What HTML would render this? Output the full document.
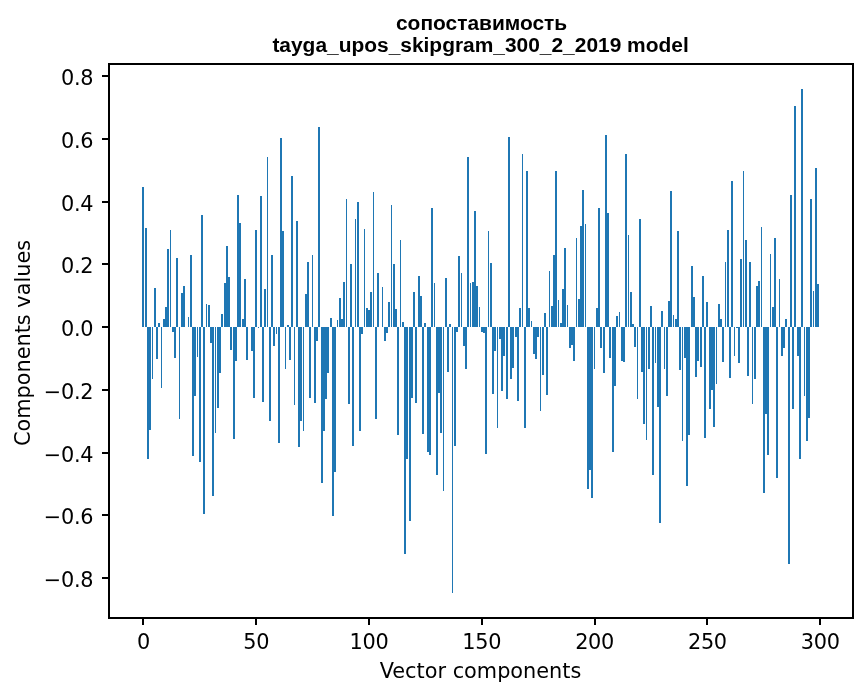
<!DOCTYPE html>
<html><head><meta charset="utf-8"><title>plot</title>
<style>
html,body{margin:0;padding:0;background:#fff;}
svg{display:block;}
.t{font-family:"DejaVu Sans",sans-serif;font-size:20.83px;fill:#000;}
.h{font-family:"Liberation Sans",Arial,sans-serif;font-weight:bold;font-size:20.93px;fill:#000;}
</style></head><body>
<svg width="867" height="696" viewBox="0 0 867 696">
<rect width="867" height="696" fill="#fff"/>
<g fill="#1f77b4" shape-rendering="crispEdges">
<rect x="142" y="187" width="2" height="140"/>
<rect x="145" y="228" width="2" height="99"/>
<rect x="147" y="327" width="2" height="132"/>
<rect x="149" y="327" width="2" height="103"/>
<rect x="152" y="327" width="1" height="52"/>
<rect x="154" y="288" width="2" height="39"/>
<rect x="156" y="327" width="2" height="32"/>
<rect x="158" y="323" width="2" height="4"/>
<rect x="161" y="327" width="1" height="61"/>
<rect x="163" y="319" width="2" height="8"/>
<rect x="165" y="307" width="2" height="20"/>
<rect x="167" y="249" width="2" height="78"/>
<rect x="170" y="230" width="1" height="97"/>
<rect x="172" y="327" width="2" height="5"/>
<rect x="174" y="327" width="2" height="31"/>
<rect x="176" y="258" width="2" height="69"/>
<rect x="179" y="327" width="1" height="92"/>
<rect x="181" y="293" width="2" height="34"/>
<rect x="183" y="286" width="2" height="41"/>
<rect x="188" y="317" width="1" height="10"/>
<rect x="190" y="255" width="2" height="72"/>
<rect x="192" y="327" width="2" height="129"/>
<rect x="194" y="327" width="2" height="69"/>
<rect x="197" y="327" width="1" height="30"/>
<rect x="199" y="327" width="2" height="135"/>
<rect x="201" y="215" width="2" height="112"/>
<rect x="203" y="327" width="2" height="187"/>
<rect x="206" y="304" width="1" height="23"/>
<rect x="208" y="305" width="2" height="22"/>
<rect x="210" y="327" width="2" height="16"/>
<rect x="212" y="327" width="2" height="169"/>
<rect x="215" y="327" width="1" height="106"/>
<rect x="217" y="327" width="2" height="81"/>
<rect x="219" y="327" width="2" height="46"/>
<rect x="221" y="314" width="2" height="13"/>
<rect x="224" y="283" width="2" height="44"/>
<rect x="226" y="246" width="2" height="81"/>
<rect x="228" y="277" width="2" height="50"/>
<rect x="230" y="327" width="2" height="23"/>
<rect x="233" y="327" width="2" height="112"/>
<rect x="235" y="327" width="2" height="34"/>
<rect x="237" y="195" width="2" height="132"/>
<rect x="239" y="223" width="2" height="104"/>
<rect x="242" y="319" width="2" height="8"/>
<rect x="244" y="279" width="2" height="48"/>
<rect x="246" y="327" width="2" height="33"/>
<rect x="251" y="327" width="2" height="24"/>
<rect x="253" y="327" width="2" height="71"/>
<rect x="255" y="230" width="2" height="97"/>
<rect x="258" y="327" width="1" height="1"/>
<rect x="260" y="196" width="2" height="131"/>
<rect x="262" y="327" width="2" height="75"/>
<rect x="264" y="289" width="2" height="38"/>
<rect x="267" y="157" width="1" height="170"/>
<rect x="269" y="327" width="2" height="94"/>
<rect x="271" y="255" width="2" height="72"/>
<rect x="273" y="327" width="2" height="19"/>
<rect x="276" y="327" width="1" height="7"/>
<rect x="278" y="327" width="2" height="116"/>
<rect x="280" y="138" width="2" height="189"/>
<rect x="282" y="231" width="2" height="96"/>
<rect x="285" y="327" width="1" height="42"/>
<rect x="287" y="325" width="2" height="2"/>
<rect x="289" y="327" width="2" height="33"/>
<rect x="291" y="176" width="2" height="151"/>
<rect x="294" y="327" width="1" height="78"/>
<rect x="296" y="221" width="2" height="106"/>
<rect x="298" y="327" width="2" height="120"/>
<rect x="300" y="327" width="2" height="94"/>
<rect x="303" y="327" width="1" height="104"/>
<rect x="305" y="294" width="2" height="33"/>
<rect x="307" y="262" width="2" height="65"/>
<rect x="309" y="327" width="2" height="71"/>
<rect x="312" y="255" width="1" height="72"/>
<rect x="314" y="327" width="2" height="76"/>
<rect x="316" y="327" width="2" height="14"/>
<rect x="318" y="127" width="2" height="200"/>
<rect x="321" y="327" width="2" height="156"/>
<rect x="323" y="327" width="2" height="104"/>
<rect x="325" y="327" width="2" height="72"/>
<rect x="327" y="327" width="2" height="46"/>
<rect x="330" y="318" width="2" height="9"/>
<rect x="332" y="327" width="2" height="189"/>
<rect x="334" y="327" width="2" height="145"/>
<rect x="337" y="320" width="1" height="7"/>
<rect x="339" y="298" width="2" height="29"/>
<rect x="341" y="319" width="2" height="8"/>
<rect x="343" y="282" width="2" height="45"/>
<rect x="346" y="199" width="1" height="128"/>
<rect x="348" y="327" width="2" height="77"/>
<rect x="350" y="264" width="2" height="63"/>
<rect x="352" y="327" width="2" height="119"/>
<rect x="355" y="219" width="1" height="108"/>
<rect x="357" y="202" width="2" height="125"/>
<rect x="359" y="327" width="2" height="104"/>
<rect x="361" y="327" width="2" height="7"/>
<rect x="364" y="229" width="1" height="98"/>
<rect x="366" y="308" width="2" height="19"/>
<rect x="368" y="310" width="2" height="17"/>
<rect x="370" y="292" width="2" height="35"/>
<rect x="373" y="192" width="1" height="135"/>
<rect x="375" y="327" width="2" height="92"/>
<rect x="377" y="273" width="2" height="54"/>
<rect x="382" y="287" width="1" height="40"/>
<rect x="384" y="327" width="2" height="14"/>
<rect x="386" y="327" width="2" height="6"/>
<rect x="388" y="302" width="2" height="25"/>
<rect x="391" y="205" width="1" height="122"/>
<rect x="393" y="264" width="2" height="63"/>
<rect x="395" y="309" width="2" height="18"/>
<rect x="397" y="327" width="2" height="108"/>
<rect x="400" y="240" width="1" height="87"/>
<rect x="402" y="322" width="2" height="5"/>
<rect x="404" y="327" width="2" height="227"/>
<rect x="406" y="327" width="2" height="132"/>
<rect x="409" y="327" width="2" height="194"/>
<rect x="411" y="327" width="2" height="71"/>
<rect x="413" y="292" width="2" height="35"/>
<rect x="415" y="327" width="2" height="76"/>
<rect x="418" y="276" width="2" height="51"/>
<rect x="420" y="296" width="2" height="31"/>
<rect x="422" y="327" width="2" height="107"/>
<rect x="424" y="323" width="2" height="4"/>
<rect x="427" y="327" width="2" height="125"/>
<rect x="429" y="327" width="2" height="128"/>
<rect x="431" y="208" width="2" height="119"/>
<rect x="434" y="283" width="1" height="44"/>
<rect x="436" y="327" width="2" height="148"/>
<rect x="438" y="327" width="2" height="66"/>
<rect x="440" y="327" width="2" height="106"/>
<rect x="443" y="327" width="1" height="164"/>
<rect x="445" y="278" width="2" height="49"/>
<rect x="447" y="327" width="2" height="45"/>
<rect x="449" y="324" width="2" height="3"/>
<rect x="452" y="327" width="1" height="266"/>
<rect x="454" y="327" width="2" height="119"/>
<rect x="456" y="327" width="2" height="5"/>
<rect x="458" y="256" width="2" height="71"/>
<rect x="461" y="273" width="1" height="54"/>
<rect x="463" y="327" width="2" height="19"/>
<rect x="465" y="327" width="2" height="42"/>
<rect x="467" y="157" width="2" height="170"/>
<rect x="470" y="283" width="1" height="44"/>
<rect x="472" y="282" width="2" height="45"/>
<rect x="474" y="211" width="2" height="116"/>
<rect x="476" y="286" width="2" height="41"/>
<rect x="479" y="307" width="1" height="20"/>
<rect x="481" y="327" width="2" height="5"/>
<rect x="483" y="327" width="2" height="6"/>
<rect x="485" y="327" width="2" height="127"/>
<rect x="488" y="231" width="1" height="96"/>
<rect x="490" y="263" width="2" height="64"/>
<rect x="492" y="327" width="2" height="67"/>
<rect x="494" y="327" width="2" height="24"/>
<rect x="497" y="327" width="1" height="101"/>
<rect x="499" y="327" width="2" height="12"/>
<rect x="501" y="327" width="2" height="64"/>
<rect x="503" y="327" width="2" height="29"/>
<rect x="506" y="327" width="2" height="72"/>
<rect x="508" y="137" width="2" height="190"/>
<rect x="510" y="327" width="2" height="52"/>
<rect x="512" y="327" width="2" height="41"/>
<rect x="515" y="327" width="2" height="10"/>
<rect x="517" y="327" width="2" height="74"/>
<rect x="519" y="308" width="2" height="19"/>
<rect x="522" y="154" width="1" height="173"/>
<rect x="524" y="327" width="2" height="101"/>
<rect x="526" y="171" width="2" height="156"/>
<rect x="528" y="308" width="2" height="19"/>
<rect x="531" y="321" width="1" height="6"/>
<rect x="533" y="327" width="2" height="27"/>
<rect x="535" y="327" width="2" height="32"/>
<rect x="537" y="327" width="2" height="10"/>
<rect x="540" y="327" width="1" height="84"/>
<rect x="542" y="327" width="2" height="48"/>
<rect x="544" y="313" width="2" height="14"/>
<rect x="546" y="327" width="2" height="68"/>
<rect x="549" y="271" width="1" height="56"/>
<rect x="551" y="306" width="2" height="21"/>
<rect x="553" y="255" width="2" height="72"/>
<rect x="555" y="171" width="2" height="156"/>
<rect x="558" y="300" width="1" height="27"/>
<rect x="560" y="323" width="2" height="4"/>
<rect x="562" y="289" width="2" height="38"/>
<rect x="564" y="248" width="2" height="79"/>
<rect x="567" y="305" width="1" height="22"/>
<rect x="569" y="327" width="2" height="21"/>
<rect x="571" y="327" width="2" height="18"/>
<rect x="573" y="327" width="2" height="34"/>
<rect x="576" y="238" width="1" height="89"/>
<rect x="578" y="299" width="2" height="28"/>
<rect x="580" y="226" width="2" height="101"/>
<rect x="582" y="190" width="2" height="137"/>
<rect x="585" y="224" width="1" height="103"/>
<rect x="587" y="327" width="2" height="162"/>
<rect x="589" y="327" width="2" height="143"/>
<rect x="591" y="327" width="2" height="171"/>
<rect x="594" y="327" width="1" height="42"/>
<rect x="596" y="308" width="2" height="19"/>
<rect x="598" y="208" width="2" height="119"/>
<rect x="600" y="327" width="2" height="21"/>
<rect x="603" y="327" width="2" height="46"/>
<rect x="605" y="135" width="2" height="192"/>
<rect x="607" y="213" width="2" height="114"/>
<rect x="609" y="327" width="2" height="31"/>
<rect x="612" y="327" width="2" height="125"/>
<rect x="614" y="327" width="2" height="59"/>
<rect x="616" y="316" width="2" height="11"/>
<rect x="619" y="312" width="1" height="15"/>
<rect x="621" y="327" width="2" height="34"/>
<rect x="623" y="327" width="2" height="35"/>
<rect x="625" y="154" width="2" height="173"/>
<rect x="628" y="235" width="1" height="92"/>
<rect x="630" y="292" width="2" height="35"/>
<rect x="632" y="324" width="2" height="3"/>
<rect x="634" y="327" width="2" height="20"/>
<rect x="637" y="327" width="1" height="72"/>
<rect x="639" y="219" width="2" height="108"/>
<rect x="641" y="327" width="2" height="45"/>
<rect x="643" y="327" width="2" height="97"/>
<rect x="646" y="327" width="1" height="113"/>
<rect x="648" y="327" width="2" height="42"/>
<rect x="650" y="306" width="2" height="21"/>
<rect x="652" y="327" width="2" height="148"/>
<rect x="655" y="327" width="1" height="36"/>
<rect x="657" y="327" width="2" height="80"/>
<rect x="659" y="327" width="2" height="196"/>
<rect x="661" y="311" width="2" height="16"/>
<rect x="664" y="327" width="1" height="42"/>
<rect x="666" y="327" width="2" height="69"/>
<rect x="668" y="301" width="2" height="26"/>
<rect x="670" y="191" width="2" height="136"/>
<rect x="673" y="315" width="1" height="12"/>
<rect x="675" y="319" width="2" height="8"/>
<rect x="677" y="231" width="2" height="96"/>
<rect x="679" y="327" width="2" height="43"/>
<rect x="682" y="327" width="1" height="114"/>
<rect x="684" y="327" width="2" height="31"/>
<rect x="686" y="327" width="2" height="159"/>
<rect x="688" y="327" width="2" height="108"/>
<rect x="691" y="266" width="2" height="61"/>
<rect x="693" y="297" width="2" height="30"/>
<rect x="695" y="327" width="2" height="50"/>
<rect x="697" y="327" width="2" height="34"/>
<rect x="700" y="327" width="2" height="40"/>
<rect x="702" y="276" width="2" height="51"/>
<rect x="704" y="327" width="2" height="111"/>
<rect x="706" y="302" width="2" height="25"/>
<rect x="709" y="327" width="2" height="82"/>
<rect x="711" y="327" width="2" height="63"/>
<rect x="713" y="327" width="2" height="100"/>
<rect x="716" y="327" width="1" height="57"/>
<rect x="718" y="304" width="2" height="23"/>
<rect x="720" y="319" width="2" height="8"/>
<rect x="722" y="327" width="2" height="35"/>
<rect x="725" y="262" width="1" height="65"/>
<rect x="727" y="230" width="2" height="97"/>
<rect x="729" y="327" width="2" height="51"/>
<rect x="731" y="181" width="2" height="146"/>
<rect x="734" y="327" width="1" height="29"/>
<rect x="736" y="327" width="2" height="1"/>
<rect x="738" y="327" width="2" height="36"/>
<rect x="740" y="259" width="2" height="68"/>
<rect x="743" y="171" width="1" height="156"/>
<rect x="745" y="240" width="2" height="87"/>
<rect x="747" y="327" width="2" height="49"/>
<rect x="749" y="262" width="2" height="65"/>
<rect x="752" y="327" width="1" height="77"/>
<rect x="754" y="327" width="2" height="52"/>
<rect x="756" y="286" width="2" height="41"/>
<rect x="758" y="281" width="2" height="46"/>
<rect x="761" y="227" width="1" height="100"/>
<rect x="763" y="327" width="2" height="166"/>
<rect x="765" y="327" width="2" height="87"/>
<rect x="767" y="327" width="2" height="128"/>
<rect x="770" y="254" width="1" height="73"/>
<rect x="772" y="307" width="2" height="20"/>
<rect x="774" y="238" width="2" height="89"/>
<rect x="776" y="327" width="2" height="151"/>
<rect x="779" y="279" width="1" height="48"/>
<rect x="781" y="327" width="2" height="29"/>
<rect x="783" y="327" width="2" height="21"/>
<rect x="785" y="319" width="2" height="8"/>
<rect x="788" y="327" width="2" height="237"/>
<rect x="790" y="195" width="2" height="132"/>
<rect x="792" y="327" width="2" height="82"/>
<rect x="794" y="106" width="2" height="221"/>
<rect x="797" y="327" width="2" height="29"/>
<rect x="799" y="327" width="2" height="132"/>
<rect x="801" y="89" width="2" height="238"/>
<rect x="804" y="327" width="1" height="69"/>
<rect x="806" y="327" width="2" height="114"/>
<rect x="808" y="327" width="2" height="91"/>
<rect x="810" y="199" width="2" height="128"/>
<rect x="813" y="291" width="1" height="36"/>
<rect x="815" y="168" width="2" height="159"/>
<rect x="817" y="284" width="2" height="43"/>
</g>
<g fill="#000" shape-rendering="crispEdges">
<rect x="108" y="63" width="746" height="2"/>
<rect x="108" y="617" width="746" height="2"/>
<rect x="108" y="63" width="2" height="556"/>
<rect x="852" y="63" width="2" height="556"/>
<rect x="142" y="619" width="2" height="6"/><rect x="255" y="619" width="2" height="6"/><rect x="368" y="619" width="2" height="6"/><rect x="481" y="619" width="2" height="6"/><rect x="594" y="619" width="2" height="6"/><rect x="706" y="619" width="2" height="6"/><rect x="819" y="619" width="2" height="6"/>
<rect x="102" y="577" width="6" height="2"/><rect x="102" y="514" width="6" height="2"/><rect x="102" y="452" width="6" height="2"/><rect x="102" y="389" width="6" height="2"/><rect x="102" y="326" width="6" height="2"/><rect x="102" y="263" width="6" height="2"/><rect x="102" y="201" width="6" height="2"/><rect x="102" y="138" width="6" height="2"/><rect x="102" y="75" width="6" height="2"/>
</g>
<g class="t">
<text x="143.4" y="649" text-anchor="middle" letter-spacing="-0.3">0</text><text x="256.2" y="649" text-anchor="middle" letter-spacing="-0.3">50</text><text x="369.0" y="649" text-anchor="middle" letter-spacing="-0.3">100</text><text x="481.8" y="649" text-anchor="middle" letter-spacing="-0.3">150</text><text x="594.6" y="649" text-anchor="middle" letter-spacing="-0.3">200</text><text x="707.4" y="649" text-anchor="middle" letter-spacing="-0.3">250</text><text x="820.2" y="649" text-anchor="middle" letter-spacing="-0.3">300</text>
<text x="93.2" y="587.3" text-anchor="end" letter-spacing="-0.3">−0.8</text><text x="93.2" y="524.3" text-anchor="end" letter-spacing="-0.3">−0.6</text><text x="93.2" y="462.3" text-anchor="end" letter-spacing="-0.3">−0.4</text><text x="93.2" y="399.3" text-anchor="end" letter-spacing="-0.3">−0.2</text><text x="93.2" y="336.3" text-anchor="end" letter-spacing="-0.3">0.0</text><text x="93.2" y="273.3" text-anchor="end" letter-spacing="-0.3">0.2</text><text x="93.2" y="211.3" text-anchor="end" letter-spacing="-0.3">0.4</text><text x="93.2" y="148.3" text-anchor="end" letter-spacing="-0.3">0.6</text><text x="93.2" y="85.3" text-anchor="end" letter-spacing="-0.3">0.8</text>
<text x="480.5" y="678" text-anchor="middle">Vector components</text>
<text transform="translate(29.5,343) rotate(-90)" text-anchor="middle">Components values</text>
</g>
<g class="h">
<text x="481.6" y="29.7" text-anchor="middle">сопоставимость</text>
<text x="480.55" y="51.5" text-anchor="middle">tayga_upos_skipgram_300_2_2019 model</text>
</g>
</svg>
</body></html>
